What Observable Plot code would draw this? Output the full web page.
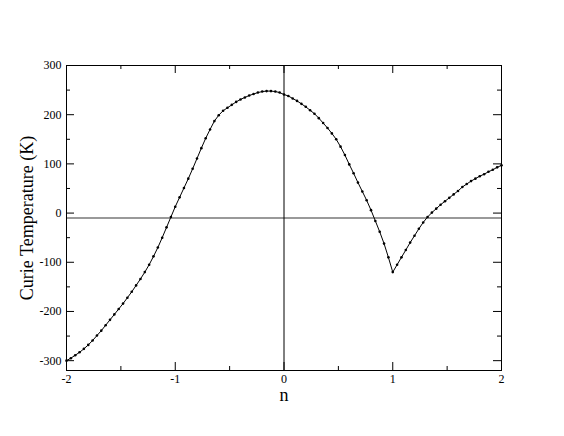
<!DOCTYPE html>
<html>
<head>
<meta charset="utf-8">
<script src="https://cdn.jsdelivr.net/npm/d3@7"></script>
<script src="https://cdn.jsdelivr.net/npm/@observablehq/plot@0.6"></script>
<style>
  html, body { margin: 0; padding: 0; background: #fff; }
  svg { display: block; }
</style>
</head>
<body>
<div id="chart"></div>
<script>
const nValues = [
  -2.00, -1.96, -1.92, -1.88, -1.84, -1.80, -1.76, -1.72, -1.68, -1.64,
  -1.60, -1.56, -1.52, -1.48, -1.44, -1.40, -1.36, -1.32, -1.28, -1.24,
  -1.20, -1.16, -1.12, -1.08, -1.04, -1.00, -0.96, -0.92, -0.88, -0.84,
  -0.80, -0.76, -0.72, -0.68, -0.64, -0.60, -0.56, -0.52, -0.48, -0.44,
  -0.40, -0.36, -0.32, -0.28, -0.24, -0.20, -0.16, -0.12, -0.08, -0.04,
  0.00, 0.04, 0.08, 0.12, 0.16, 0.20, 0.24, 0.28, 0.32, 0.36,
  0.40, 0.44, 0.48, 0.52, 0.56, 0.60, 0.64, 0.68, 0.72, 0.76,
  0.80, 0.84, 0.88, 0.92, 0.96, 1.00, 1.04, 1.08, 1.12, 1.16,
  1.20, 1.24, 1.28, 1.32, 1.36, 1.40, 1.44, 1.48, 1.52, 1.56,
  1.60, 1.64, 1.68, 1.72, 1.76, 1.80, 1.84, 1.88, 1.92, 1.96,
  2.00
];
const curieTemp = [
  -300, -295, -289, -283, -276, -268, -259, -249, -239, -228,
  -217, -206, -195, -184, -172, -160, -147, -134, -120, -105,
  -88, -70, -50, -29, -8, 13, 32, 51, 70, 90,
  111, 132, 152, 170, 187, 199, 208, 214, 220, 226,
  231, 235, 239, 242, 245, 247, 248, 248, 247, 245,
  241, 238, 233, 228, 222, 216, 209, 202, 193, 183,
  173, 162, 150, 135, 118, 99, 81, 62, 44, 26,
  6, -16, -38, -62, -90, -120, -105, -90, -75, -60,
  -46, -32, -19, -8, 1, 9, 17, 24, 31, 38,
  45, 53, 59, 65, 70, 75, 79, 84, 88, 93,
  97
];
const xMajorTicks = [-2, -1, 0, 1, 2];
const xMinorTicks = [-1.5, -0.5, 0.5, 1.5];
const yMajorTicks = [-300, -200, -100, 0, 100, 200, 300];
const yMinorTicks = [-250, -150, -50, 50, 150, 250];
const referenceLineY = [-10];
const referenceLineX = [0];

const data = nValues.map((n, i) => ({n, t: curieTemp[i]}));

const W = 564, H = 436;
const mL = 66, mR = 63, mT = 65, mB = 66;
const fw = W - mL - mR, fh = H - mT - mB;
const serif = "'Liberation Serif', 'Times New Roman', 'DejaVu Serif', serif";

const chart = Plot.plot({
  width: W,
  height: H,
  marginLeft: mL,
  marginRight: mR,
  marginTop: mT,
  marginBottom: mB,
  style: {fontFamily: serif, background: "#fff", color: "#000"},
  x: {domain: [-2, 2]},
  y: {domain: [-320, 300]},
  marks: [
    Plot.ruleY(referenceLineY, {stroke: "#777", strokeWidth: 1.3}),
    Plot.ruleX(referenceLineX, {stroke: "#000", strokeWidth: 1}),
    // inward ticks, bottom & top
    Plot.tickX(xMajorTicks, {x: d => d, insetTop: fh - 8, stroke: "#000"}),
    Plot.tickX(xMinorTicks, {x: d => d, insetTop: fh - 4, stroke: "#000"}),
    Plot.tickX(xMajorTicks, {x: d => d, insetBottom: fh - 8, stroke: "#000"}),
    Plot.tickX(xMinorTicks, {x: d => d, insetBottom: fh - 4, stroke: "#000"}),
    // inward ticks, left & right
    Plot.tickY(yMajorTicks, {y: d => d, insetRight: fw - 8, stroke: "#000"}),
    Plot.tickY(yMinorTicks, {y: d => d, insetRight: fw - 4, stroke: "#000"}),
    Plot.tickY(yMajorTicks, {y: d => d, insetLeft: fw - 8, stroke: "#000"}),
    Plot.tickY(yMinorTicks, {y: d => d, insetLeft: fw - 4, stroke: "#000"}),
    Plot.axisX({
      ticks: xMajorTicks, tickSize: 0, tickPadding: 4, fontSize: 12,
      tickFormat: d => String(d),
      label: "n", labelAnchor: "center", labelArrow: "none", labelOffset: 30
    }),
    Plot.axisY({
      ticks: yMajorTicks, tickSize: 0, tickPadding: 5, fontSize: 12,
      tickFormat: d => String(d),
      label: "Curie Temperature (K)", labelAnchor: "center", labelArrow: "none", labelOffset: 46
    }),
    Plot.line(data, {x: "n", y: "t", stroke: "#000", strokeWidth: 1}),
    Plot.dot(data, {x: "n", y: "t", r: 1.3, fill: "#000"}),
    Plot.frame({stroke: "#000", strokeWidth: 1})
  ]
});

// enlarge axis label font
chart.querySelectorAll("[aria-label='x-axis label'] text, [aria-label='y-axis label'] text").forEach(t => {
  t.setAttribute("font-size", "18");
});
document.getElementById("chart").appendChild(chart);
</script>
</body>
</html>
